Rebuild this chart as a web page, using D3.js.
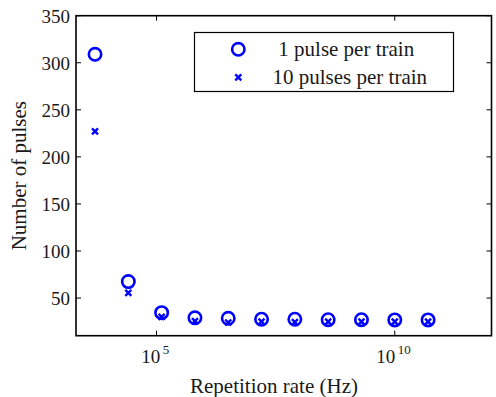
<!DOCTYPE html>
<html>
<head>
<meta charset="utf-8">
<script src="https://cdn.jsdelivr.net/npm/d3@7"></script>
<style>
  body { margin: 0; background: #fff; }
  svg { display: block; }
</style>
</head>
<body>
<svg id="chart" width="496" height="397"></svg>
<script>
// Repetition rates (Hz) — successive factors of 5
const rates = [5120, 25600, 128000, 640000, 3.2e6, 1.6e7, 8e7, 4e8, 2e9, 1e10, 5e10];
// Number of pulses for each train configuration
const onePulse = [309, 67.5, 34.5, 29, 28.5, 27.5, 27.5, 27, 27, 26.8, 26.8];
const tenPulses = [227, 55.5, 30, 25.5, 24, 25, 24.5, 25, 25, 25, 25];
const seriesNames = ["1 pulse per train", "10 pulses per train"];
const yTicks = [50, 100, 150, 200, 250, 300, 350];
const xTicks = [1e5, 1e10];

const svg = d3.select("#chart");
const plotL = 76, plotR = 491.5, plotT = 15.7, plotB = 335.7;
const blue = "#0000ff";
const ink = "#1a1a1a";
const serif = "'Liberation Serif'";

const x = d3.scaleLog().domain([Math.pow(10, 3.31), Math.pow(10, 12.03)]).range([plotL, plotR]);
const y = d3.scaleLinear().domain([10, 350]).range([plotB, plotT]);

function label(sel, size) {
  return sel.append("text").style("font-family", serif).attr("font-size", size).attr("fill", ink);
}

// Ticks pointing inward on all four sides
const tickLen = 5;
const g = svg.append("g");
yTicks.forEach(v => {
  const yy = y(v);
  g.append("line").attr("x1", plotL).attr("x2", plotL + tickLen).attr("y1", yy).attr("y2", yy)
    .attr("stroke", "#000").attr("stroke-width", 1);
  g.append("line").attr("x1", plotR).attr("x2", plotR - tickLen).attr("y1", yy).attr("y2", yy)
    .attr("stroke", "#000").attr("stroke-width", 1);
  label(g, 19).attr("x", plotL - 6).attr("y", yy + 7.3).attr("text-anchor", "end").text(v);
});
xTicks.forEach(v => {
  const xx = x(v);
  g.append("line").attr("x1", xx).attr("x2", xx).attr("y1", plotB).attr("y2", plotB - tickLen)
    .attr("stroke", "#000").attr("stroke-width", 1);
  g.append("line").attr("x1", xx).attr("x2", xx).attr("y1", plotT).attr("y2", plotT + tickLen)
    .attr("stroke", "#000").attr("stroke-width", 1);
  const exp = Math.round(Math.log10(v));
  const t = label(g, 19).attr("x", xx).attr("y", plotB + 27.6);
  t.append("tspan").text("10");
  t.append("tspan").attr("dx", 2.5).attr("dy", -9).attr("font-size", 13).text(exp);
  const w = t.node().getComputedTextLength();
  t.attr("x", xx - 2.5 - w / 2);
});

// Axes box
svg.append("rect").attr("x", plotL).attr("y", plotT).attr("width", plotR - plotL).attr("height", plotB - plotT)
  .attr("fill", "none").attr("stroke", "#000").attr("stroke-width", 1.6);

// Axis titles
label(svg, 21).attr("x", 274).attr("y", 393).attr("text-anchor", "middle").text("Repetition rate (Hz)");
label(svg, 21).attr("transform", `translate(26,${(plotT + plotB) / 2}) rotate(-90)`)
  .attr("text-anchor", "middle").text("Number of pulses");

// Marker generators
function circleMark(sel, cx, cy) {
  sel.append("circle").attr("cx", cx).attr("cy", cy).attr("r", 6.2)
    .attr("fill", "none").attr("stroke", blue).attr("stroke-width", 2.6);
}
function crossMark(sel, cx, cy) {
  const s = 3;
  sel.append("path").attr("d", `M${cx - s},${cy - s}L${cx + s},${cy + s}M${cx - s},${cy + s}L${cx + s},${cy - s}`)
    .attr("fill", "none").attr("stroke", blue).attr("stroke-width", 2.4);
}

const marks = svg.append("g");
rates.forEach((r, i) => circleMark(marks, x(r), y(onePulse[i])));
rates.forEach((r, i) => crossMark(marks, x(r), y(tenPulses[i])));

// Legend
const lg = svg.append("g");
lg.append("rect").attr("x", 194.5).attr("y", 32.5).attr("width", 259).attr("height", 59)
  .attr("fill", "#fff").attr("stroke", "#000").attr("stroke-width", 1.2);
circleMark(lg, 238.3, 49.3);
crossMark(lg, 238.3, 77.3);
label(lg, 21).attr("x", 278.3).attr("y", 56).text(seriesNames[0]);
label(lg, 21).attr("x", 272.5).attr("y", 84).text(seriesNames[1]);
</script>
</body>
</html>
